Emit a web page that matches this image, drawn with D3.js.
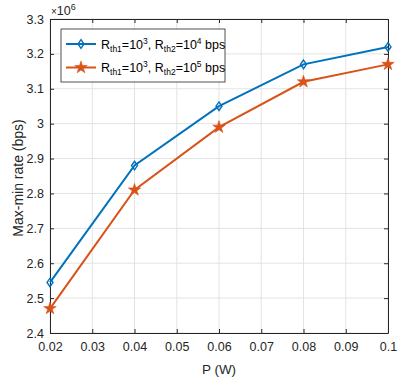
<!DOCTYPE html>
<html>
<head>
<meta charset="utf-8">
<script src="https://cdn.jsdelivr.net/npm/d3@7"></script>
<style>
  body { margin: 0; background: #fff; }
  text { font-family: "Liberation Sans", Arial, sans-serif; }
</style>
</head>
<body>
<svg id="chart"></svg>
<script>
// Data
const powers = [0.02, 0.04, 0.06, 0.08, 0.1];
const rateTh4 = [2.545, 2.88, 3.05, 3.17, 3.22];   // x1e6, Rth2 = 1e4
const rateTh5 = [2.47, 2.81, 2.99, 3.12, 3.17];    // x1e6, Rth2 = 1e5
const xTicks = [0.02, 0.03, 0.04, 0.05, 0.06, 0.07, 0.08, 0.09, 0.1];
const yTicks = [2.4, 2.5, 2.6, 2.7, 2.8, 2.9, 3, 3.1, 3.2, 3.3];

const dims = { width: 401, height: 377, left: 50, right: 13, top: 19, bottom: 44 };

const svg = d3.select("#chart")
    .attr("width", dims.width)
    .attr("height", dims.height);

const x = d3.scaleLinear().domain([0.02, 0.1])
    .range([dims.left, dims.width - dims.right]);
const y = d3.scaleLinear().domain([2.4, 3.3])
    .range([dims.height - dims.bottom, dims.top]);

const axisColor = "#262626";
const fs = 12.5;
const x0 = x.range()[0], x1 = x.range()[1], y0 = y.range()[0], y1 = y.range()[1];

// grid
svg.append("g").selectAll("line").data(xTicks).join("line")
    .attr("x1", d => x(d)).attr("x2", d => x(d))
    .attr("y1", y0).attr("y2", y1)
    .attr("stroke", "#e3e3e3").attr("stroke-width", 1);
svg.append("g").selectAll("line").data(yTicks).join("line")
    .attr("x1", x0).attr("x2", x1)
    .attr("y1", d => y(d)).attr("y2", d => y(d))
    .attr("stroke", "#e3e3e3").attr("stroke-width", 1);

// axes (ticks inward, box)
const fmtX = d => d3.format("")(+d.toFixed(2));
svg.append("g")
    .attr("transform", `translate(0,${y0})`)
    .call(d3.axisBottom(x).tickValues(xTicks).tickSize(-4).tickPadding(9).tickFormat(fmtX).tickSizeOuter(0))
    .call(g => g.selectAll("text").attr("font-size", fs).attr("fill", axisColor));
svg.append("g")
    .attr("transform", `translate(0,${y1})`)
    .call(d3.axisTop(x).tickValues(xTicks).tickSize(-4).tickFormat("").tickSizeOuter(0));
svg.append("g")
    .attr("transform", `translate(${x0},0)`)
    .call(d3.axisLeft(y).tickValues(yTicks).tickSize(-4).tickPadding(6).tickFormat(d => +d.toFixed(1)).tickSizeOuter(0))
    .call(g => g.selectAll("text").attr("font-size", fs).attr("fill", axisColor));
svg.append("g")
    .attr("transform", `translate(${x1},0)`)
    .call(d3.axisRight(y).tickValues(yTicks).tickSize(-4).tickFormat("").tickSizeOuter(0));
svg.selectAll(".domain").attr("stroke", axisColor);
svg.selectAll(".tick line").attr("stroke", axisColor);

// exponent label
const ex = svg.append("text").attr("x", x0 + 1).attr("y", 15)
    .attr("font-size", fs).attr("fill", axisColor);
ex.append("tspan").attr("font-size", 10).text("\u00d7");
ex.append("tspan").text("10");
ex.append("tspan").attr("dy", -5).attr("font-size", 9).text("6");

// axis titles
svg.append("text")
    .attr("x", (x0 + x1) / 2).attr("y", 374)
    .attr("text-anchor", "middle").attr("font-size", 13.5).attr("fill", axisColor)
    .text("P (W)");
svg.append("text")
    .attr("transform", `translate(23,${(y0 + y1) / 2 + 2}) rotate(-90)`)
    .attr("text-anchor", "middle").attr("font-size", 14).attr("fill", axisColor)
    .text("Max-min rate (bps)");

const series = [
    { vals: rateTh4, color: "#0072BD", marker: "diamond", exp: "4" },
    { vals: rateTh5, color: "#D95319", marker: "star", exp: "5" }
];

const line = d3.line().x((d, i) => x(powers[i])).y(d => y(d));

function drawMarker(g, type, color, cx, cy) {
    if (type === "diamond") {
        g.append("path")
            .attr("d", `M${cx},${cy - 4.3}L${cx + 3},${cy}L${cx},${cy + 4.3}L${cx - 3},${cy}Z`)
            .attr("fill", "none").attr("stroke", color).attr("stroke-width", 1.4);
    } else {
        g.append("path")
            .attr("transform", `translate(${cx},${cy})`)
            .attr("d", d3.symbol(d3.symbolStar, 48)())
            .attr("fill", color).attr("stroke", color).attr("stroke-width", 0.6);
    }
}

series.forEach(s => {
    svg.append("path").datum(s.vals)
        .attr("d", line).attr("fill", "none")
        .attr("stroke", s.color).attr("stroke-width", 2);
    const g = svg.append("g");
    s.vals.forEach((v, i) => drawMarker(g, s.marker, s.color, x(powers[i]), y(v)));
});

// legend
const lg = svg.append("g");
lg.append("rect").attr("x", 61).attr("y", 29).attr("width", 164).attr("height", 53)
    .attr("fill", "#fff").attr("stroke", axisColor).attr("stroke-width", 0.8);
series.forEach((s, i) => {
    const ly = 44 + i * 23.5;
    lg.append("line").attr("x1", 66).attr("x2", 96).attr("y1", ly).attr("y2", ly)
        .attr("stroke", s.color).attr("stroke-width", 2);
    drawMarker(lg, s.marker, s.color, 81, ly);
    const t = lg.append("text").attr("x", 101).attr("y", ly + 4.5)
        .attr("font-size", fs).attr("fill", "#000");
    t.append("tspan").text("R");
    t.append("tspan").attr("dy", 3).attr("font-size", 8.5).text("th1");
    t.append("tspan").attr("dy", -3).text("=10");
    t.append("tspan").attr("dy", -5).attr("font-size", 8.5).text("3");
    t.append("tspan").attr("dy", 5).text(", R");
    t.append("tspan").attr("dy", 3).attr("font-size", 8.5).text("th2");
    t.append("tspan").attr("dy", -3).text("=10");
    t.append("tspan").attr("dy", -5).attr("font-size", 8.5).text(s.exp);
    t.append("tspan").attr("dy", 5).text(" bps");
});
</script>
</body>
</html>
